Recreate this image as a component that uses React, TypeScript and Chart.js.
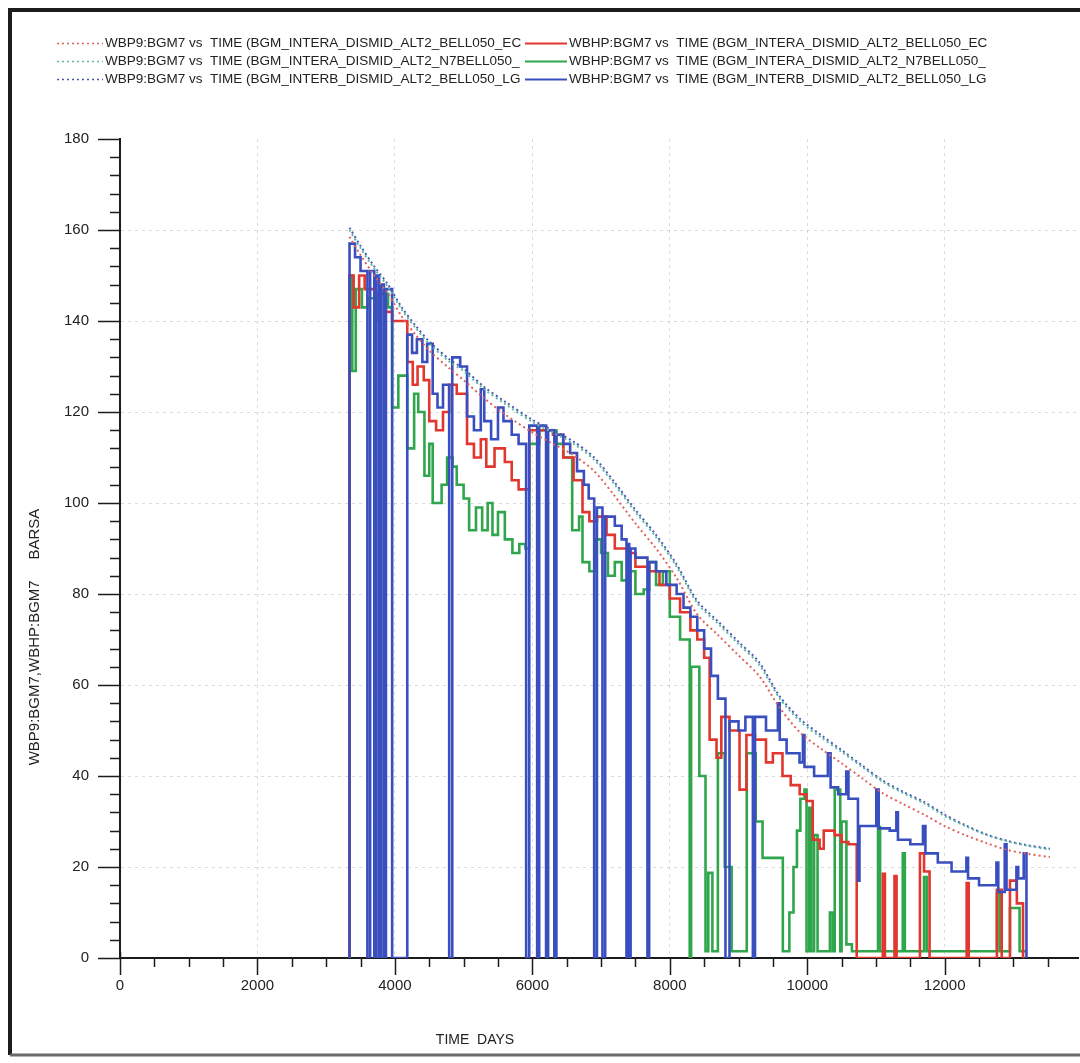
import React, { useEffect, useRef } from 'react';
import { Chart, registerables } from 'chart.js';

Chart.register(...registerables);

// ---------- data ----------
// WBP9 (dotted) curves share one time axis (days)
const wbp9Days = [3340, 3500, 3700, 3900, 4100, 4300, 4500, 4800, 5000, 5300, 5600, 6000, 6300, 6600, 6900, 7200, 7500, 7800, 8100, 8400, 8700, 9000, 9300, 9600, 9900, 10200, 10500, 10800, 11100, 11400, 11700, 12000, 12300, 12600, 12900, 13200, 13530];
const wbp9Ec = [158.5, 154.5, 150, 146, 141, 137, 133.5, 129.5, 127, 123, 119.5, 115.5, 113, 110.5, 107, 101.5, 95.5, 90, 83.5, 75.5, 71, 66.5, 62, 55, 49.5, 46, 42.8, 39.5, 36.2, 33.8, 31.5, 29, 27, 25.3, 23.8, 22.9, 22.2];
const wbp9N7 = [160, 156, 151.5, 147.5, 142.5, 138.5, 135, 131, 129, 125, 121.8, 117.8, 115.5, 113, 109.5, 104, 98, 92.5, 86, 78, 73.5, 69, 64.5, 57, 52, 48.5, 45.3, 42, 38.7, 36.2, 34, 31.2, 29, 27.1, 25.7, 24.7, 23.8];
const wbp9Lg = [160.5, 156.5, 152, 148, 143, 139, 135.5, 131.5, 129.5, 125.5, 122.3, 118.3, 116, 113.5, 110, 104.5, 98.5, 93, 86.5, 78.5, 74, 69.5, 65, 57.5, 52.5, 49, 45.7, 42.3, 39, 36.5, 34.3, 31.5, 29.2, 27.2, 25.8, 24.8, 24];

// WBHP (solid, stepped) curves: [day, barsa]
const wbhpEc: [number, number][] = [
  [3335, 0], [3340, 150], [3400, 143], [3480, 150], [3560, 147], [3700, 146], [3850, 142], [3960, 140],
  [4180, 131], [4260, 126], [4330, 130], [4420, 127], [4500, 118], [4600, 116], [4700, 120], [4790, 126],
  [4900, 124], [5050, 113], [5150, 110], [5250, 114], [5330, 108], [5450, 112], [5600, 109], [5700, 105],
  [5800, 103], [5955, 116], [6300, 115], [6450, 110], [6600, 105], [6730, 98], [6830, 96], [6940, 97],
  [7080, 93], [7200, 90], [7410, 89], [7500, 86], [7700, 85], [7850, 82], [8000, 79], [8150, 76],
  [8300, 72], [8400, 70], [8500, 66], [8580, 48], [8680, 44], [8750, 53], [8869, 50], [9015, 37],
  [9115, 49], [9240, 48], [9400, 43], [9500, 45], [9640, 40], [9760, 38], [9890, 36], [9990, 34.5],
  [10080, 26], [10180, 24], [10240, 28], [10400, 27], [10500, 25.5], [10600, 25], [10720, 0],
  [11100, 18.5], [11130, 0], [11270, 18], [11300, 0], [11640, 23], [11700, 19], [11780, 0],
  [12320, 16.5], [12350, 0], [12760, 15], [12830, 0], [12950, 17], [13050, 12], [13140, 0],
];
const wbhpN7: [number, number][] = [
  [3335, 0], [3340, 150], [3380, 129], [3430, 147], [3520, 143], [3600, 145], [3700, 140], [3760, 146],
  [3900, 143], [3960, 121], [4050, 128], [4180, 112], [4280, 124], [4340, 120], [4430, 106], [4500, 113],
  [4550, 100], [4680, 104], [4760, 110], [4840, 108], [4900, 104], [5000, 101], [5080, 94], [5180, 99],
  [5270, 94], [5350, 100], [5420, 93], [5500, 98], [5600, 92], [5710, 89], [5810, 91], [5900, 90],
  [5955, 113], [6100, 116], [6350, 113], [6450, 110], [6580, 94], [6680, 97], [6730, 87], [6830, 85],
  [6930, 92], [7000, 89], [7100, 84], [7200, 87], [7300, 83], [7400, 85], [7500, 80], [7620, 81],
  [7700, 87], [7800, 82], [7900, 85], [8000, 75], [8150, 70], [8290, 0], [8310, 64], [8430, 40],
  [8520, 1.5], [8560, 18.7], [8620, 1.5], [8700, 45], [8800, 20], [8900, 1.5], [9120, 45], [9250, 30],
  [9350, 22], [9645, 1.5], [9740, 10], [9800, 20], [9850, 28], [9900, 35], [9960, 37], [9990, 1.5],
  [10030, 33], [10060, 1.5], [10100, 27], [10150, 1.5], [10330, 10], [10370, 1.5], [10400, 37],
  [10480, 1.5], [10500, 30], [10570, 3], [10650, 1.5], [11030, 28.8], [11060, 1.5], [11390, 23],
  [11420, 1.5], [11700, 17.8], [11740, 1.5], [12760, 14.3], [12800, 1.5], [12950, 11], [13090, 1.5],
  [13190, 1.5],
];
const wbhpLg: [number, number][] = [
  [3335, 0], [3340, 157], [3420, 154], [3500, 151], [3600, 0], [3640, 151], [3700, 0], [3730, 150],
  [3770, 0], [3800, 148], [3840, 0], [3870, 147], [3960, 0], [4180, 137], [4250, 133], [4320, 136],
  [4400, 131], [4470, 135], [4550, 124], [4620, 121], [4700, 126], [4790, 0], [4835, 132], [4950, 130],
  [5050, 119], [5150, 116], [5250, 125], [5300, 118], [5400, 114], [5500, 121], [5580, 118], [5700, 115],
  [5800, 113], [5910, 0], [5955, 117], [6070, 0], [6100, 117], [6200, 0], [6230, 116], [6320, 0],
  [6350, 115], [6450, 113], [6550, 111], [6650, 107], [6750, 104], [6820, 101], [6900, 0], [6940, 99],
  [7020, 0], [7060, 97], [7200, 95], [7300, 92], [7370, 0], [7390, 91], [7410, 0], [7430, 90],
  [7500, 88], [7675, 0], [7700, 87], [7800, 85], [7950, 82], [8100, 80], [8200, 77], [8300, 75],
  [8400, 72], [8500, 68], [8600, 62], [8700, 57], [8810, 0], [8869, 52], [9000, 50], [9100, 53],
  [9209, 0], [9240, 53], [9400, 50], [9573, 56], [9600, 48], [9700, 45], [9888, 43], [9937, 49],
  [9960, 42], [10100, 40], [10300, 45], [10340, 37.5], [10450, 36], [10568, 41], [10600, 35],
  [10738, 17], [10760, 29], [10900, 29], [11005, 37], [11040, 28.5], [11200, 28], [11297, 32],
  [11320, 26], [11500, 25], [11684, 29], [11720, 23], [11900, 21], [12100, 19], [12316, 22],
  [12340, 17.5], [12500, 16], [12753, 21], [12780, 14.5], [12874, 25], [12900, 15], [13044, 20],
  [13070, 17.5], [13150, 23], [13190, 0], [13200, 0],
];

const xTickLabels = [0, 2000, 4000, 6000, 8000, 10000, 12000];
const yTickLabels = [0, 20, 40, 60, 80, 100, 120, 140, 160, 180];
const xMinorStep = 500;
const yMinorStep = 4;
const X_MAX = 13940;

const labels = {
  wbp9Ec: 'WBP9:BGM7 vs  TIME (BGM_INTERA_DISMID_ALT2_BELL050_EC',
  wbp9N7: 'WBP9:BGM7 vs  TIME (BGM_INTERA_DISMID_ALT2_N7BELL050_',
  wbp9Lg: 'WBP9:BGM7 vs  TIME (BGM_INTERB_DISMID_ALT2_BELL050_LG',
  wbhpEc: 'WBHP:BGM7 vs  TIME (BGM_INTERA_DISMID_ALT2_BELL050_EC',
  wbhpN7: 'WBHP:BGM7 vs  TIME (BGM_INTERA_DISMID_ALT2_N7BELL050_',
  wbhpLg: 'WBHP:BGM7 vs  TIME (BGM_INTERB_DISMID_ALT2_BELL050_LG',
};
const xTitle = 'TIME  DAYS';
const yTitle = 'WBP9:BGM7,WBHP:BGM7     BARSA';

const FONT = '"Liberation Sans", Arial, Helvetica, sans-serif';

const zipDays = (days: number[], vals: number[]) => days.map((d, i) => ({ x: d, y: vals[i] }));
const fromPairs = (p: [number, number][]) => p.map(([x, y]) => ({ x, y }));

// ---------- plugins ----------
const framePlugin = {
  id: 'frame',
  beforeDraw(chart: any) {
    const ctx = chart.ctx;
    ctx.save();
    ctx.fillStyle = '#ffffff';
    ctx.fillRect(0, 0, chart.width, chart.height);
    ctx.strokeStyle = '#1c1c1c';
    ctx.lineWidth = 4;
    ctx.beginPath();
    ctx.moveTo(chart.width + 5, 10);
    ctx.lineTo(10, 10);
    ctx.lineTo(10, 1055);
    ctx.stroke();
    ctx.strokeStyle = '#6a6a6a';
    ctx.lineWidth = 3;
    ctx.beginPath();
    ctx.moveTo(10, 1055);
    ctx.lineTo(chart.width + 5, 1055);
    ctx.stroke();
    ctx.restore();
  },
};

const tickMarksPlugin = {
  id: 'tickMarks',
  afterDraw(chart: any) {
    const { ctx, chartArea } = chart;
    const xs = chart.scales.x;
    const ys = chart.scales.y;
    ctx.save();
    ctx.strokeStyle = '#1c1c1c';
    ctx.lineWidth = 1.5;
    ctx.beginPath();
    for (let d = 0; d <= xs.max; d += xMinorStep) {
      const px = Math.round(xs.getPixelForValue(d)) + 0.5;
      const major = xTickLabels.includes(d);
      ctx.moveTo(px, chartArea.bottom - (d === 0 ? 6 : 0));
      ctx.lineTo(px, chartArea.bottom + (major ? 17 : 9));
    }
    for (let v = 0; v <= ys.max; v += yMinorStep) {
      const py = Math.round(ys.getPixelForValue(v)) + 0.5;
      const major = yTickLabels.includes(v);
      ctx.moveTo(chartArea.left - (major ? 22 : 10), py);
      ctx.lineTo(chartArea.left, py);
    }
    ctx.stroke();

    // axis titles
    ctx.fillStyle = '#222';
    ctx.font = `14px ${FONT}`;
    ctx.textAlign = 'center';
    ctx.textBaseline = 'middle';
    ctx.fillText(xTitle, 475, 1040);
    ctx.translate(35, 637);
    ctx.rotate(-Math.PI / 2);
    ctx.font = `15px ${FONT}`;
    ctx.fillText(yTitle, 0, 0);
    ctx.restore();
  },
};

const legendPlugin = {
  id: 'sheetLegend',
  afterDraw(chart: any) {
    const ctx = chart.ctx;
    const ds = chart.data.datasets;
    const rows = [[0, 1], [2, 3], [4, 5]];
    ctx.save();
    ctx.font = `13.5px ${FONT}`;
    ctx.textBaseline = 'middle';
    ctx.textAlign = 'left';
    ctx.fillStyle = '#222';
    rows.forEach((pair, r) => {
      const y = 43 + r * 18;
      pair.forEach((idx, c) => {
        const d = ds[idx];
        const x0 = c === 0 ? 57 : 525;
        const x1 = c === 0 ? 103 : 567;
        ctx.strokeStyle = d.borderColor;
        ctx.lineWidth = c === 0 ? 1.6 : 2.2;
        ctx.setLineDash(d.borderDash || []);
        ctx.beginPath();
        ctx.moveTo(x0, y + 0.5);
        ctx.lineTo(x1, y + 0.5);
        ctx.stroke();
        ctx.setLineDash([]);
        ctx.fillText(d.label, x1 + 2, y);
      });
    });
    ctx.restore();
  },
};

// ---------- component ----------
export default function App() {
  const ref = useRef<HTMLCanvasElement | null>(null);

  useEffect(() => {
    if (!ref.current) return;
    const dotted = (label: string, color: string, data: any[]) => ({
      label,
      data,
      borderColor: color,
      backgroundColor: color,
      borderWidth: 2,
      borderDash: [2, 3],
      pointRadius: 0,
      tension: 0.3,
      fill: false,
      order: 0,
    });
    const solid = (label: string, color: string, data: any[], order: number) => ({
      label,
      data,
      borderColor: color,
      backgroundColor: color,
      borderWidth: 2.6,
      pointRadius: 0,
      stepped: true,
      fill: false,
      order,
    });

    const chart = new Chart(ref.current, {
      type: 'line',
      data: {
        datasets: [
          dotted(labels.wbp9Ec, '#e0625c', zipDays(wbp9Days, wbp9Ec)),
          solid(labels.wbhpEc, '#e2372f', fromPairs(wbhpEc), 2),
          dotted(labels.wbp9N7, '#5fb9a2', zipDays(wbp9Days, wbp9N7)),
          solid(labels.wbhpN7, '#2fa64c', fromPairs(wbhpN7), 3),
          dotted(labels.wbp9Lg, '#4b58b6', zipDays(wbp9Days, wbp9Lg)),
          solid(labels.wbhpLg, '#3a4fbf', fromPairs(wbhpLg), 1),
        ] as any,
      },
      options: {
        animation: false,
        responsive: false,
        layout: { padding: { top: 139, right: 2, left: 0, bottom: 0 } },
        plugins: {
          legend: { display: false },
          tooltip: { enabled: false },
        },
        elements: { point: { radius: 0 } },
        scales: {
          x: {
            type: 'linear',
            min: 0,
            max: X_MAX,
            afterFit: (s: any) => { s.height = 105; },
            afterBuildTicks: (s: any) => { s.ticks = xTickLabels.map((v) => ({ value: v })); },
            ticks: {
              autoSkip: false,
              maxRotation: 0,
              padding: 19,
              color: '#222',
              font: { family: FONT, size: 15 },
              callback: (v: any) => String(v),
            },
            grid: {
              drawTicks: false,
              lineWidth: 1,
              color: (c: any) => (c.tick && c.tick.value > 0 ? 'rgba(0,0,0,0.14)' : 'rgba(0,0,0,0)'),
            },
            border: { color: '#1c1c1c', width: 2, dash: [3, 4] },
          },
          y: {
            type: 'linear',
            min: 0,
            max: 180,
            afterFit: (s: any) => { s.width = 120; },
            afterBuildTicks: (s: any) => { s.ticks = yTickLabels.map((v) => ({ value: v })); },
            ticks: {
              autoSkip: false,
              padding: 31,
              color: '#222',
              font: { family: FONT, size: 15 },
              callback: (v: any) => String(v),
            },
            grid: {
              drawTicks: false,
              lineWidth: 1,
              color: (c: any) =>
                c.tick && c.tick.value > 0 && c.tick.value < 180 ? 'rgba(0,0,0,0.14)' : 'rgba(0,0,0,0)',
            },
            border: { color: '#1c1c1c', width: 2, dash: [3, 4] },
          },
        },
      },
      plugins: [framePlugin, tickMarksPlugin, legendPlugin],
    });
    return () => chart.destroy();
  }, []);

  return (
    <div style={{ position: 'fixed', left: 0, top: 0, width: 1080, height: 1063, overflow: 'hidden', background: '#fff' }}>
      <canvas ref={ref} width={1080} height={1063} style={{ display: 'block' }} />
    </div>
  );
}
